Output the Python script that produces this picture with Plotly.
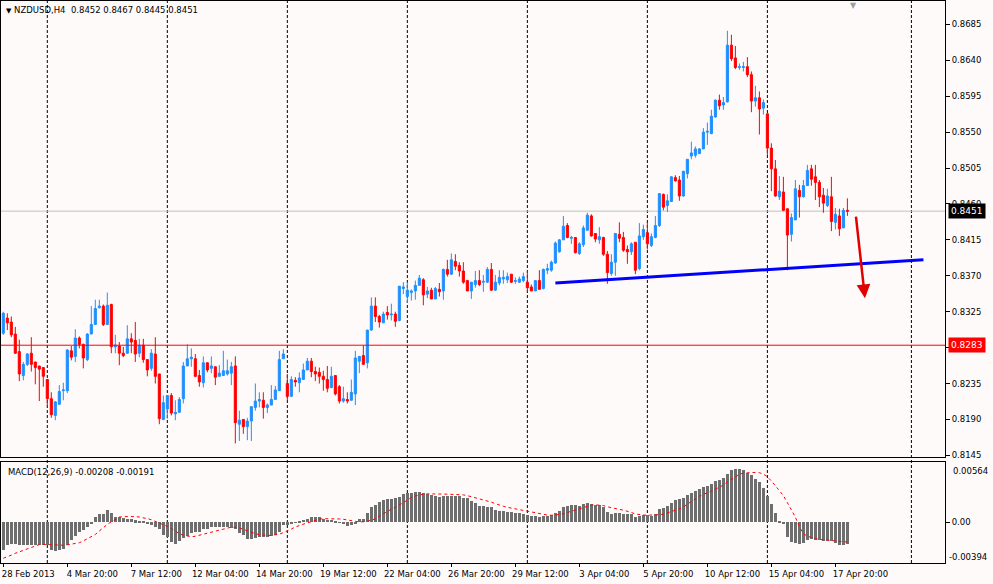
import plotly.graph_objects as go

# NZDUSD H4, bars from 28 Feb 2013 04:00 to 18 Apr 2013 08:00
opens = [
    0.8298, 0.8317, 0.8312, 0.8297, 0.8275, 0.8245, 0.8259, 0.8273, 0.8262, 0.8257,
    0.8255, 0.8240, 0.8216, 0.8195, 0.8209, 0.8226, 0.8226, 0.8276, 0.8269, 0.8292,
    0.8284, 0.8265, 0.8297, 0.8309, 0.8330, 0.8332, 0.8309, 0.8334, 0.8281, 0.8282,
    0.8273, 0.8273, 0.8291, 0.8289, 0.8273, 0.8283, 0.8265, 0.8254, 0.8272, 0.8247,
    0.8190, 0.8203, 0.8220, 0.8197, 0.8199, 0.8216, 0.8257, 0.8266, 0.8266, 0.8245,
    0.8236, 0.8261, 0.8254, 0.8256, 0.8244, 0.8245, 0.8247, 0.8248, 0.8257, 0.8184,
    0.8190, 0.8181, 0.8188, 0.8205, 0.8213, 0.8214, 0.8205, 0.8208, 0.8215, 0.8226,
    0.8266, 0.8235, 0.8219, 0.8239, 0.8236, 0.8240, 0.8252, 0.8263, 0.8250, 0.8249,
    0.8244, 0.8240, 0.8230, 0.8245, 0.8231, 0.8213, 0.8215, 0.8214, 0.8222, 0.8263,
    0.8270, 0.8261, 0.8302, 0.8332, 0.8319, 0.8311, 0.8324, 0.8321, 0.8322, 0.8314,
    0.8354, 0.8344, 0.8349, 0.8351, 0.8358, 0.8365, 0.8347, 0.8352, 0.8341, 0.8353,
    0.8351, 0.8378, 0.8372, 0.8388, 0.8383, 0.8376, 0.8364, 0.8351, 0.8359, 0.8364,
    0.8362, 0.8362, 0.8378, 0.8352, 0.8361, 0.8366, 0.8365, 0.8372, 0.8363, 0.8362,
    0.8364, 0.8362, 0.8356, 0.8351, 0.8364, 0.8354, 0.8377, 0.8377, 0.8386, 0.8400,
    0.8415, 0.8433, 0.8417, 0.8418, 0.8398, 0.8409, 0.8427, 0.8445, 0.8423, 0.8415,
    0.8418, 0.8397, 0.8373, 0.8387, 0.8422, 0.8418, 0.8403, 0.8400, 0.8412, 0.8379,
    0.8419, 0.8424, 0.8408, 0.8418, 0.8433, 0.8472, 0.8458, 0.8463, 0.8493, 0.8490,
    0.8470, 0.8498, 0.8520, 0.8521, 0.8523, 0.8529, 0.8550, 0.8548, 0.8569, 0.8590,
    0.8584, 0.8588, 0.8659, 0.8643, 0.8631, 0.8631, 0.8632, 0.8622, 0.8589, 0.8593,
    0.8580, 0.8573, 0.8530, 0.8504, 0.8469, 0.8475, 0.8454, 0.8422, 0.8440, 0.8477,
    0.8469, 0.8483, 0.8504, 0.8494, 0.8487, 0.8471, 0.8458, 0.8469, 0.8437, 0.8445,
    0.8430, 0.8452,
]
highs = [
    0.8325, 0.8323, 0.8319, 0.8306, 0.8290, 0.8262, 0.8273, 0.8293, 0.8262, 0.8257,
    0.8255, 0.8240, 0.8224, 0.8213, 0.8233, 0.8236, 0.8278, 0.8282, 0.8303, 0.8294,
    0.8285, 0.8298, 0.8332, 0.8340, 0.8340, 0.8334, 0.8349, 0.8335, 0.8296, 0.8287,
    0.8281, 0.8308, 0.8298, 0.8312, 0.8291, 0.8291, 0.8265, 0.8278, 0.8293, 0.8247,
    0.8220, 0.8220, 0.8223, 0.8214, 0.8218, 0.8262, 0.8284, 0.8279, 0.8272, 0.8252,
    0.8269, 0.8261, 0.8269, 0.8256, 0.8258, 0.8276, 0.8265, 0.8262, 0.8269, 0.8201,
    0.8190, 0.8192, 0.8206, 0.8235, 0.8224, 0.8224, 0.8210, 0.8233, 0.8232, 0.8276,
    0.8278, 0.8247, 0.8244, 0.8243, 0.8249, 0.8260, 0.8267, 0.8267, 0.8256, 0.8255,
    0.8251, 0.8257, 0.8256, 0.8245, 0.8233, 0.8231, 0.8224, 0.8240, 0.8276, 0.8269,
    0.8283, 0.8302, 0.8343, 0.8343, 0.8321, 0.8325, 0.8332, 0.8335, 0.8325, 0.8357,
    0.8362, 0.8362, 0.8353, 0.8364, 0.8371, 0.8367, 0.8356, 0.8355, 0.8356, 0.8361,
    0.8379, 0.8390, 0.8398, 0.8397, 0.8387, 0.8387, 0.8365, 0.8362, 0.8376, 0.8377,
    0.8371, 0.8381, 0.8386, 0.8371, 0.8377, 0.8377, 0.8374, 0.8372, 0.8368, 0.8369,
    0.8374, 0.8376, 0.8359, 0.8364, 0.8377, 0.8379, 0.8385, 0.8389, 0.8413, 0.8416,
    0.8445, 0.8436, 0.8420, 0.8418, 0.8412, 0.8433, 0.8449, 0.8447, 0.8423, 0.8431,
    0.8419, 0.8401, 0.8397, 0.8423, 0.8437, 0.8425, 0.8408, 0.8412, 0.8412, 0.8436,
    0.8434, 0.8437, 0.8423, 0.8445, 0.8473, 0.8473, 0.8472, 0.8495, 0.8496, 0.8495,
    0.8501, 0.8516, 0.8538, 0.8532, 0.8530, 0.8555, 0.8562, 0.8578, 0.8591, 0.8597,
    0.8594, 0.8677, 0.8672, 0.8658, 0.8636, 0.8638, 0.8644, 0.8626, 0.8608, 0.8601,
    0.8591, 0.8573, 0.8536, 0.8515, 0.8495, 0.8494, 0.8454, 0.8448, 0.8490, 0.8484,
    0.8490, 0.8509, 0.8509, 0.8509, 0.8490, 0.8480, 0.8479, 0.8494, 0.8455, 0.8454,
    0.8455, 0.8467,
]
lows = [
    0.8296, 0.8302, 0.8293, 0.8272, 0.8238, 0.8239, 0.8257, 0.8250, 0.8234, 0.8213,
    0.8231, 0.8206, 0.8192, 0.8189, 0.8209, 0.8214, 0.8223, 0.8264, 0.8262, 0.8279,
    0.8254, 0.8263, 0.8297, 0.8309, 0.8329, 0.8307, 0.8309, 0.8273, 0.8273, 0.8258,
    0.8268, 0.8272, 0.8273, 0.8262, 0.8268, 0.8261, 0.8244, 0.8251, 0.8235, 0.8184,
    0.8189, 0.8191, 0.8195, 0.8189, 0.8198, 0.8210, 0.8257, 0.8256, 0.8243, 0.8231,
    0.8230, 0.8249, 0.8248, 0.8233, 0.8244, 0.8245, 0.8245, 0.8233, 0.8160, 0.8163,
    0.8172, 0.8164, 0.8163, 0.8201, 0.8205, 0.8191, 0.8198, 0.8208, 0.8215, 0.8226,
    0.8266, 0.8214, 0.8218, 0.8231, 0.8224, 0.8240, 0.8252, 0.8243, 0.8238, 0.8235,
    0.8226, 0.8224, 0.8229, 0.8220, 0.8210, 0.8211, 0.8210, 0.8214, 0.8208, 0.8248,
    0.8259, 0.8254, 0.8301, 0.8312, 0.8305, 0.8311, 0.8315, 0.8314, 0.8306, 0.8313,
    0.8347, 0.8336, 0.8339, 0.8340, 0.8358, 0.8333, 0.8342, 0.8341, 0.8341, 0.8344,
    0.8340, 0.8369, 0.8371, 0.8377, 0.8369, 0.8360, 0.8351, 0.8341, 0.8355, 0.8357,
    0.8350, 0.8361, 0.8351, 0.8351, 0.8358, 0.8360, 0.8361, 0.8361, 0.8360, 0.8361,
    0.8362, 0.8350, 0.8351, 0.8351, 0.8353, 0.8353, 0.8372, 0.8375, 0.8385, 0.8399,
    0.8415, 0.8417, 0.8410, 0.8398, 0.8396, 0.8406, 0.8427, 0.8419, 0.8412, 0.8410,
    0.8395, 0.8360, 0.8370, 0.8370, 0.8412, 0.8400, 0.8385, 0.8396, 0.8372, 0.8377,
    0.8415, 0.8403, 0.8406, 0.8417, 0.8431, 0.8452, 0.8450, 0.8463, 0.8488, 0.8464,
    0.8469, 0.8492, 0.8516, 0.8518, 0.8523, 0.8529, 0.8534, 0.8548, 0.8568, 0.8578,
    0.8578, 0.8587, 0.8639, 0.8629, 0.8628, 0.8626, 0.8619, 0.8575, 0.8582, 0.8547,
    0.8572, 0.8521, 0.8476, 0.8469, 0.8465, 0.8451, 0.8377, 0.8413, 0.8440, 0.8443,
    0.8468, 0.8483, 0.8483, 0.8465, 0.8456, 0.8449, 0.8456, 0.8426, 0.8428, 0.8420,
    0.8430, 0.8445,
]
closes = [
    0.8323, 0.8311, 0.8296, 0.8273, 0.8247, 0.8259, 0.8272, 0.8259, 0.8255, 0.8253,
    0.8244, 0.8216, 0.8196, 0.8212, 0.8225, 0.8227, 0.8277, 0.8268, 0.8292, 0.8284,
    0.8267, 0.8297, 0.8309, 0.8329, 0.8332, 0.8309, 0.8333, 0.8281, 0.8283, 0.8273,
    0.8270, 0.8291, 0.8287, 0.8272, 0.8283, 0.8265, 0.8252, 0.8273, 0.8244, 0.8191,
    0.8211, 0.8220, 0.8198, 0.8199, 0.8215, 0.8257, 0.8266, 0.8268, 0.8244, 0.8237,
    0.8261, 0.8252, 0.8257, 0.8243, 0.8248, 0.8251, 0.8251, 0.8256, 0.8186, 0.8189,
    0.8181, 0.8188, 0.8206, 0.8213, 0.8215, 0.8205, 0.8208, 0.8215, 0.8227, 0.8265,
    0.8272, 0.8219, 0.8240, 0.8237, 0.8242, 0.8252, 0.8263, 0.8250, 0.8247, 0.8244,
    0.8240, 0.8229, 0.8244, 0.8222, 0.8213, 0.8216, 0.8213, 0.8224, 0.8267, 0.8269,
    0.8259, 0.8302, 0.8332, 0.8319, 0.8312, 0.8322, 0.8321, 0.8322, 0.8313, 0.8357,
    0.8356, 0.8352, 0.8351, 0.8358, 0.8367, 0.8346, 0.8351, 0.8341, 0.8354, 0.8350,
    0.8378, 0.8372, 0.8390, 0.8382, 0.8376, 0.8362, 0.8351, 0.8362, 0.8364, 0.8359,
    0.8363, 0.8378, 0.8352, 0.8362, 0.8368, 0.8368, 0.8369, 0.8362, 0.8364, 0.8366,
    0.8369, 0.8355, 0.8351, 0.8364, 0.8353, 0.8378, 0.8379, 0.8387, 0.8411, 0.8415,
    0.8432, 0.8418, 0.8418, 0.8399, 0.8410, 0.8430, 0.8446, 0.8420, 0.8416, 0.8419,
    0.8397, 0.8374, 0.8387, 0.8423, 0.8417, 0.8402, 0.8400, 0.8410, 0.8377, 0.8420,
    0.8428, 0.8410, 0.8419, 0.8433, 0.8473, 0.8456, 0.8464, 0.8494, 0.8489, 0.8470,
    0.8501, 0.8516, 0.8524, 0.8529, 0.8529, 0.8550, 0.8551, 0.8570, 0.8590, 0.8583,
    0.8587, 0.8659, 0.8642, 0.8631, 0.8632, 0.8632, 0.8622, 0.8589, 0.8593, 0.8579,
    0.8587, 0.8530, 0.8504, 0.8470, 0.8476, 0.8452, 0.8421, 0.8443, 0.8479, 0.8469,
    0.8483, 0.8502, 0.8491, 0.8487, 0.8469, 0.8461, 0.8470, 0.8438, 0.8447, 0.8429,
    0.8452, 0.8451,
]

# MACD(12,26,9): main line (histogram) and signal line
macd_main = [
    -0.00268, -0.00214, -0.00211, -0.00211, -0.00214, -0.00214, -0.00214, -0.00214, -0.00214, -0.00214,
    -0.00220, -0.00223, -0.00262, -0.00274, -0.00265, -0.00255, -0.00214, -0.00166, -0.00128, -0.00093,
    -0.00073, -0.00041, -0.00006, 0.00051, 0.00077, 0.00083, 0.00118, 0.00093, 0.00057, 0.00048,
    0.00041, 0.00035, 0.00035, 0.00019, 0.00016, 0.00010, -0.00013, -0.00029, -0.00041, -0.00067,
    -0.00118, -0.00140, -0.00188, -0.00204, -0.00182, -0.00150, -0.00131, -0.00099, -0.00093, -0.00093,
    -0.00067, -0.00061, -0.00045, -0.00045, -0.00041, -0.00041, -0.00041, -0.00051, -0.00067, -0.00099,
    -0.00124, -0.00156, -0.00156, -0.00147, -0.00144, -0.00140, -0.00140, -0.00134, -0.00124, -0.00093,
    -0.00029, -0.00022, -0.00019, 0.00003, 0.00016, 0.00026, 0.00035, 0.00048, 0.00048, 0.00048,
    0.00035, 0.00026, 0.00026, 0.00016, 0.00003, -0.00019, -0.00032, -0.00029, -0.00006, 0.00029,
    0.00035, 0.00093, 0.00147, 0.00169, 0.00201, 0.00220, 0.00230, 0.00230, 0.00236, 0.00243,
    0.00274, 0.00284, 0.00284, 0.00297, 0.00297, 0.00284, 0.00271, 0.00265, 0.00259, 0.00249,
    0.00252, 0.00252, 0.00259, 0.00259, 0.00252, 0.00239, 0.00239, 0.00211, 0.00188, 0.00163,
    0.00156, 0.00147, 0.00147, 0.00124, 0.00115, 0.00115, 0.00105, 0.00099, 0.00093, 0.00093,
    0.00083, 0.00073, 0.00061, 0.00061, 0.00054, 0.00067, 0.00067, 0.00073, 0.00093, 0.00115,
    0.00153, 0.00163, 0.00172, 0.00169, 0.00163, 0.00179, 0.00188, 0.00179, 0.00172, 0.00172,
    0.00147, 0.00105, 0.00083, 0.00093, 0.00093, 0.00083, 0.00077, 0.00077, 0.00051, 0.00067,
    0.00073, 0.00073, 0.00067, 0.00083, 0.00131, 0.00137, 0.00156, 0.00185, 0.00217, 0.00227,
    0.00233, 0.00265, 0.00284, 0.00306, 0.00322, 0.00345, 0.00354, 0.00370, 0.00402, 0.00412,
    0.00434, 0.00466, 0.00508, 0.00514, 0.00514, 0.00508, 0.00482, 0.00457, 0.00425, 0.00393,
    0.00338, 0.00259, 0.00179, 0.00089, 0.00010, -0.00013, -0.00140, -0.00188, -0.00195, -0.00204,
    -0.00195, -0.00172, -0.00163, -0.00166, -0.00172, -0.00179, -0.00179, -0.00182, -0.00198, -0.00220,
    -0.00214, -0.00208,
]
macd_signal = [
    -0.00348, -0.00335, -0.00318, -0.00300, -0.00285, -0.00270, -0.00255, -0.00240, -0.00225, -0.00216,
    -0.00214, -0.00216, -0.00218, -0.00220, -0.00222, -0.00222, -0.00218, -0.00212, -0.00206, -0.00198,
    -0.00180, -0.00160, -0.00140, -0.00118, -0.00085, -0.00050, -0.00020, 0.00005, 0.00030, 0.00050,
    0.00055, 0.00057, 0.00057, 0.00055, 0.00051, 0.00045, 0.00035, 0.00025, 0.00010, -0.00005,
    -0.00020, -0.00040, -0.00060, -0.00085, -0.00110, -0.00125, -0.00135, -0.00140, -0.00135, -0.00125,
    -0.00115, -0.00108, -0.00095, -0.00085, -0.00075, -0.00062, -0.00052, -0.00047, -0.00048, -0.00054,
    -0.00068, -0.00083, -0.00099, -0.00110, -0.00120, -0.00125, -0.00127, -0.00127, -0.00124, -0.00115,
    -0.00100, -0.00086, -0.00065, -0.00045, -0.00030, -0.00015, -0.00005, 0.00005, 0.00020, 0.00030,
    0.00035, 0.00036, 0.00036, 0.00035, 0.00032, 0.00029, 0.00022, 0.00012, 0.00005, 0.00003,
    0.00005, 0.00010, 0.00019, 0.00035, 0.00055, 0.00083, 0.00105, 0.00125, 0.00145, 0.00163,
    0.00190, 0.00215, 0.00240, 0.00255, 0.00265, 0.00272, 0.00275, 0.00276, 0.00276, 0.00275,
    0.00273, 0.00272, 0.00271, 0.00270, 0.00268, 0.00265, 0.00258, 0.00248, 0.00236, 0.00225,
    0.00215, 0.00206, 0.00195, 0.00180, 0.00165, 0.00155, 0.00145, 0.00137, 0.00130, 0.00122,
    0.00115, 0.00108, 0.00098, 0.00088, 0.00080, 0.00073, 0.00070, 0.00068, 0.00069, 0.00075,
    0.00083, 0.00095, 0.00108, 0.00121, 0.00135, 0.00148, 0.00160, 0.00166, 0.00169, 0.00168,
    0.00162, 0.00150, 0.00140, 0.00132, 0.00125, 0.00118, 0.00110, 0.00095, 0.00080, 0.00073,
    0.00070, 0.00068, 0.00068, 0.00070, 0.00074, 0.00078, 0.00090, 0.00102, 0.00115, 0.00130,
    0.00150, 0.00175, 0.00205, 0.00233, 0.00252, 0.00270, 0.00284, 0.00302, 0.00320, 0.00338,
    0.00360, 0.00390, 0.00415, 0.00440, 0.00466, 0.00475, 0.00480, 0.00482, 0.00482, 0.00480,
    0.00466, 0.00440, 0.00400, 0.00355, 0.00305, 0.00259, 0.00190, 0.00120, 0.00050, -0.00045,
    -0.00110, -0.00135, -0.00150, -0.00158, -0.00165, -0.00170, -0.00175, -0.00178, -0.00182, -0.00184,
    -0.00188, -0.00191,
]

# time axis labels, one every 16 bars
time_labels = ['28 Feb 2013', '4 Mar 20:00', '7 Mar 12:00', '12 Mar 04:00', '14 Mar 20:00',
               '19 Mar 12:00', '22 Mar 04:00', '26 Mar 20:00', '29 Mar 12:00', '3 Apr 04:00',
               '5 Apr 20:00', '10 Apr 12:00', '15 Apr 04:00', '17 Apr 20:00']
label_step = 16

# week separators (bar index of Monday 00:00, last one in the shifted future area)
week_bars = [11, 41, 71, 101, 131, 161, 191, 227]

# chart objects
level_price = 0.8283
trend_bars = [138, 230]
trend_prices = [0.8361, 0.8390]
arrow_bars = [213.1, 215.4]
arrow_prices = [0.8446, 0.8342]

price_ticks = [0.8145, 0.8190, 0.8235, 0.8280, 0.8325, 0.8370, 0.8415, 0.8460,
               0.8505, 0.8550, 0.8595, 0.8640, 0.8685]
macd_labels = [-0.00394, 0.00564]
macd_range = [-0.00394, 0.00585]

bars = list(range(len(closes)))
bid = closes[-1]

bg = '#FFFAFA'
font = 'DejaVu Sans'
up_col = '#1E90FF'
down_col = '#FF0000'

candles = go.Candlestick(
    x=bars, open=opens, high=highs, low=lows, close=closes,
    increasing=dict(line=dict(color=up_col, width=1), fillcolor=up_col),
    decreasing=dict(line=dict(color=down_col, width=1), fillcolor=down_col),
    whiskerwidth=0, hoverinfo='skip', xaxis='x', yaxis='y')

hist = go.Bar(
    x=bars, y=macd_main, marker=dict(color='#6E6E6E', line=dict(width=0)),
    width=0.75, hoverinfo='skip', xaxis='x2', yaxis='y2')

signal = go.Scatter(
    x=bars, y=macd_signal, mode='lines',
    line=dict(color='#FF0000', width=1, dash='dot'),
    hoverinfo='skip', xaxis='x2', yaxis='y2')

fig = go.Figure(data=[candles, hist, signal])

x_range = [-0.575, 235.4]
frame = dict(showline=True, mirror=True, linecolor='black', linewidth=1,
             showgrid=False, zeroline=False)

fig.update_layout(
    width=993, height=584,
    margin=dict(l=1, r=48, t=1, b=21),
    paper_bgcolor=bg, plot_bgcolor=bg,
    showlegend=False,
    boxgap=0.25, bargap=0,
    font=dict(family=font, size=8.5, color='black'),
    xaxis=dict(domain=[0, 1], range=x_range, anchor='y', showticklabels=False,
               ticks='', rangeslider=dict(visible=False), **frame),
    xaxis2=dict(domain=[0, 1], range=x_range, anchor='y2', matches='x',
                tickvals=bars[::label_step], ticktext=time_labels,
                ticks='outside', ticklen=3, tickcolor='black',
                ticklabelshift=25, ticklabelstandoff=0, **frame),
    yaxis=dict(domain=[0.188, 1], range=[0.81425, 0.87143], side='right', anchor='x',
               tickvals=price_ticks, ticktext=['%.4f' % p for p in price_ticks],
               ticks='outside', ticklen=4, tickcolor='black', **frame),
    yaxis2=dict(domain=[0, 0.18], range=macd_range, side='right', anchor='x2',
                tickvals=[0], ticktext=['0.00'],
                ticks='outside', ticklen=4, tickcolor='black', **frame),
)

# scale extremes of the indicator window, kept inside the window like the terminal does
fig.add_annotation(xref='paper', x=1, xanchor='left', xshift=6, yref='y2', y=macd_labels[1],
                   yanchor='top', text='%.5f' % macd_labels[1], showarrow=False)
fig.add_annotation(xref='paper', x=1, xanchor='left', xshift=2, yref='y2', y=macd_labels[0],
                   yanchor='bottom', yshift=-1, text='%.5f' % macd_labels[0], showarrow=False)

# week separators through both panels
for b in week_bars:
    fig.add_shape(type='line', xref='x', yref='paper', x0=b, x1=b, y0=0, y1=1,
                  line=dict(color='black', width=1, dash='3px,2px'), layer='below')

# bid line and horizontal level
fig.add_shape(type='line', xref='paper', yref='y', x0=0, x1=1, y0=bid, y1=bid,
              line=dict(color='#C0C0C0', width=1), layer='below')
fig.add_shape(type='line', xref='paper', yref='y', x0=0, x1=1, y0=level_price, y1=level_price,
              line=dict(color='#FF0000', width=1))

# trend line
fig.add_shape(type='line', xref='x', yref='y',
              x0=trend_bars[0], x1=trend_bars[1], y0=trend_prices[0], y1=trend_prices[1],
              line=dict(color='#0000FF', width=3))

# down arrow
fig.add_annotation(x=arrow_bars[1], y=arrow_prices[1], ax=arrow_bars[0], ay=arrow_prices[0],
                   xref='x', yref='y', axref='x', ayref='y', text='', showarrow=True,
                   arrowhead=2, arrowsize=1.1, arrowwidth=2.5, arrowcolor='#E00000')

# price labels on the scale
fig.add_annotation(xref='paper', x=1, xanchor='left', xshift=3, yref='y', y=bid,
                   text='%.4f' % bid, showarrow=False, bgcolor='black', borderpad=2,
                   font=dict(color='white', size=9, family=font))
fig.add_annotation(xref='paper', x=1, xanchor='left', xshift=3, yref='y', y=level_price,
                   text='%.4f' % level_price, showarrow=False, bgcolor='#FF0000', borderpad=2,
                   font=dict(color='white', size=9, family=font))

# chart header and indicator caption
header = "<span style='font-size:7px'>▼</span> NZDUSD,H4  %.4f %.4f %.4f %.4f" % (
    opens[-1], highs[-1], lows[-1], closes[-1])
fig.add_annotation(xref='paper', yref='paper', x=0, y=1, xanchor='left', yanchor='top',
                   xshift=3, yshift=-2, text=header, showarrow=False, font=dict(size=8.5))
fig.add_annotation(xref='paper', yref='paper', x=0, y=0.18, xanchor='left', yanchor='top',
                   xshift=5, yshift=-3,
                   text='MACD(12,26,9) %.5f %.5f' % (macd_main[-1], macd_signal[-1]),
                   showarrow=False, font=dict(size=8.5))

# chart shift marker
fig.add_annotation(xref='x', yref='paper', x=bars[-1] + 1.6, y=1, yanchor='top', yshift=2,
                   text='▼', showarrow=False, font=dict(size=8, color='#A0A0A0'))

fig.write_html('out.html', config={'displayModeBar': False},
               post_script="document.body.style.margin='0';document.body.style.overflow='hidden';")
